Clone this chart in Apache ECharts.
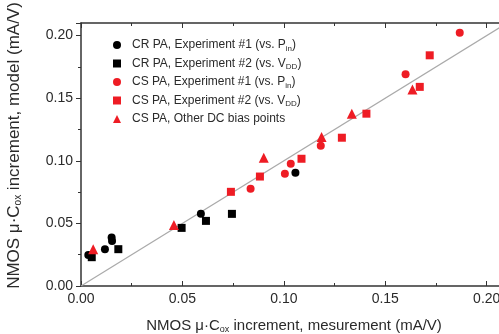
<!DOCTYPE html>
<html>
<head>
<meta charset="utf-8">
<script src="https://cdn.jsdelivr.net/npm/echarts@6/dist/echarts.min.js"></script>
<style>
  html, body { margin: 0; padding: 0; background: #fff; }
  #chart { width: 499px; height: 334px; }
</style>
</head>
<body>
<div id="chart"></div>
<script>
    // 数据 [measurement, model] (mA/V)
    let crExp1 = [[0.0036, 0.0248], [0.0118, 0.0294], [0.0151, 0.0387], [0.0153, 0.0360], [0.0591, 0.0576], [0.1057, 0.0904]];
    let crExp2 = [[0.0053, 0.0230], [0.0184, 0.0294], [0.0496, 0.0464], [0.0616, 0.0520], [0.0744, 0.0576]];
    let csExp1 = [[0.0836, 0.0776], [0.1005, 0.0896], [0.1034, 0.0976], [0.1182, 0.1120], [0.1600, 0.1690], [0.1867, 0.2022]];
    let csExp2 = [[0.0739, 0.0752], [0.0882, 0.0874], [0.1087, 0.1016], [0.1286, 0.1184], [0.1407, 0.1376], [0.1670, 0.1590], [0.1719, 0.1842]];
    let csOther = [[0.0060, 0.0294], [0.0458, 0.0488], [0.0901, 0.1024], [0.1186, 0.1190], [0.1335, 0.1376], [0.1634, 0.1570]];
    let refLine = [[0, 0], [0.21, 0.21]];

    let seriesNames = [
        'CR PA, Experiment #1 (vs. Pin)',
        'CR PA, Experiment #2 (vs. VDD)',
        'CS PA, Experiment #1 (vs. Pin)',
        'CS PA, Experiment #2 (vs. VDD)',
        'CS PA, Other DC bias points'
    ];
    // 图例里的下标
    let legendLabels = {
        'CR PA, Experiment #1 (vs. Pin)': '{t|CR PA, Experiment #1 (vs. P}{s|in}{t|)}',
        'CR PA, Experiment #2 (vs. VDD)': '{t|CR PA, Experiment #2 (vs. V}{s|DD}{t|)}',
        'CS PA, Experiment #1 (vs. Pin)': '{t|CS PA, Experiment #1 (vs. P}{s|in}{t|)}',
        'CS PA, Experiment #2 (vs. VDD)': '{t|CS PA, Experiment #2 (vs. V}{s|DD}{t|)}',
        'CS PA, Other DC bias points': '{t|CS PA, Other DC bias points}'
    };

    let font = 'Liberation Sans';
    let textColor = '#2a2a2a';
    let red = '#ee1c24';

    let chart = echarts.init(document.getElementById('chart'));

    let richX = {
        t: { fontSize: 15, fontFamily: font, color: textColor },
        s: { fontSize: 9, fontFamily: font, color: textColor, verticalAlign: 'bottom', padding: [7, 0, 0, 0] }
    };
    let richY = {
        t: { fontSize: 17, fontFamily: font, color: textColor },
        s: { fontSize: 10, fontFamily: font, color: textColor, verticalAlign: 'bottom', padding: [8, 0, 0, 0] }
    };
    let fmt = v => v.toFixed(2);

    let option = {
        animation: false,
        grid: { left: 81, top: 23, width: 426, height: 263, outerBoundsMode: 'none', containLabel: false },
        legend: {
            orient: 'vertical',
            left: 108,
            top: 34,
            itemWidth: 8,
            itemHeight: 8,
            itemGap: 5,
            data: seriesNames,
            formatter: name => legendLabels[name],
            textStyle: {
                padding: [0, 0, 0, 6],
                rich: {
                    t: { fontSize: 12, fontFamily: font, color: textColor, lineHeight: 15 },
                    s: { fontSize: 8, fontFamily: font, color: textColor, verticalAlign: 'bottom', padding: [6, 0, 0, 0] }
                }
            }
        },
        xAxis: [
            {
                type: 'value',
                min: 0, max: 0.21, interval: 0.05,
                name: '{t|NMOS μ·C}{s|ox}{t| increment, mesurement (mA/V)}',
                nameLocation: 'middle',
                nameGap: 32,
                nameTextStyle: { rich: richX },
                splitLine: { show: false },
                axisLine: { lineStyle: { color: '#333', width: 1.5 } },
                axisTick: { inside: true, length: 5, lineStyle: { color: '#333' } },
                minorTick: { show: true, splitNumber: 2, length: 3, lineStyle: { color: '#333' } },
                axisLabel: { formatter: fmt, showMaxLabel: false, margin: 6, fontSize: 14, fontFamily: font, color: textColor }
            },
            {
                type: 'value', position: 'top',
                min: 0, max: 0.21, interval: 0.05,
                splitLine: { show: false },
                axisLine: { lineStyle: { color: '#333', width: 1.5 } },
                axisTick: { inside: true, length: 5, lineStyle: { color: '#333' } },
                minorTick: { show: true, splitNumber: 2, length: 3, lineStyle: { color: '#333' } },
                axisLabel: { show: false }
            }
        ],
        yAxis: {
            type: 'value',
            min: 0, max: 0.21, interval: 0.05,
            name: '{t|NMOS μ·C}{s|ox}{t| increment, model (mA/V)}',
            nameLocation: 'middle',
            nameGap: 58,
            nameTextStyle: { rich: richY, padding: [0, 0, 0, 18] },
            splitLine: { show: false },
            axisLine: { lineStyle: { color: '#333', width: 1.5 } },
            axisTick: { length: 5, lineStyle: { color: '#333' } },
            minorTick: { show: true, splitNumber: 2, length: 3, lineStyle: { color: '#333' } },
            axisLabel: { formatter: fmt, showMaxLabel: false, margin: 8, fontSize: 14, fontFamily: font, color: textColor }
        },
        series: [
            {
                type: 'line', data: refLine, showSymbol: false, silent: true,
                lineStyle: { color: '#aaaaaa', width: 1.2 }, z: 1
            },
            { name: seriesNames[0], type: 'scatter', data: crExp1, symbol: 'circle', symbolSize: 8, itemStyle: { color: '#000', opacity: 1 } },
            { name: seriesNames[1], type: 'scatter', data: crExp2, symbol: 'rect', symbolSize: 8, itemStyle: { color: '#000', opacity: 1 } },
            { name: seriesNames[2], type: 'scatter', data: csExp1, symbol: 'circle', symbolSize: 8, itemStyle: { color: red, opacity: 1 } },
            { name: seriesNames[3], type: 'scatter', data: csExp2, symbol: 'rect', symbolSize: 8, itemStyle: { color: red, opacity: 1 } },
            { name: seriesNames[4], type: 'scatter', data: csOther, symbol: 'triangle', symbolSize: 10, itemStyle: { color: red, opacity: 1 } }
        ]
    };

    chart.setOption(option);
</script>
</body>
</html>
